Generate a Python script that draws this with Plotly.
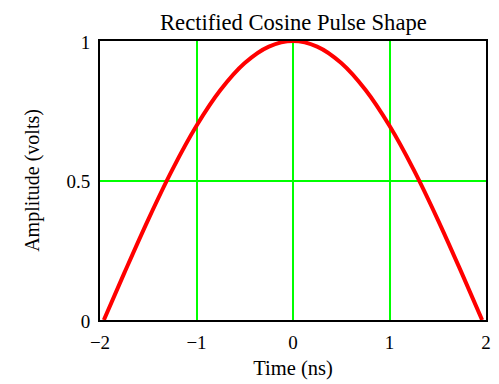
import plotly.graph_objects as go

# Time (ns) and amplitude (volts)
time_ns = [-1.96, -1.75, -1.5, -1.25, -1.0, -0.75, -0.5, -0.25, 0.0,
           0.25, 0.5, 0.75, 1.0, 1.25, 1.5, 1.75, 1.96]
amplitude = [0.0, 0.167, 0.36, 0.539, 0.696, 0.825, 0.921, 0.98, 1.0,
             0.98, 0.921, 0.825, 0.696, 0.539, 0.36, 0.167, 0.0]

x_ticks = [-2, -1, 0, 1, 2]
x_tick_text = ["\u22122", "\u22121", "0", "1", "2"]
y_ticks = [0, 0.5, 1]
y_tick_text = ["0", "0.5", "1"]

FONT = "Liberation Serif, Times New Roman, serif"
GRID = "#00ff00"

fig = go.Figure()
fig.add_trace(go.Scatter(x=time_ns, y=amplitude, mode="lines",
                         line=dict(color="#ff0000", width=4, shape="spline"),
                         showlegend=False, hoverinfo="skip"))

fig.update_layout(
    width=499, height=384,
    margin=dict(l=100, r=8, t=41, b=63),
    paper_bgcolor="white", plot_bgcolor="white",
    font=dict(family=FONT, size=19, color="black"),
    title=dict(text="Rectified Cosine Pulse Shape", x=0.588, xanchor="center",
               y=1 - 22 / 384, yanchor="middle", font=dict(size=22.6)),
    xaxis=dict(range=[-2, 2], tickvals=x_ticks, ticktext=x_tick_text,
               showgrid=True, gridcolor=GRID, gridwidth=1.5,
               zeroline=False, showline=True, linecolor="black", linewidth=2,
               mirror=True, ticks="", ticklabelstandoff=4,
               title=dict(text="Time (ns)", standoff=9, font=dict(size=20.5))),
    yaxis=dict(range=[0, 1], tickvals=y_ticks, ticktext=y_tick_text,
               showgrid=True, gridcolor=GRID, gridwidth=1.5,
               zeroline=False, showline=True, linecolor="black", linewidth=2,
               mirror=True, ticks="", ticklabelstandoff=4, ticklabelshift=1,
               title=dict(text="Amplitude (volts)", standoff=21, font=dict(size=20))),
)

fig.write_html("out.html")
